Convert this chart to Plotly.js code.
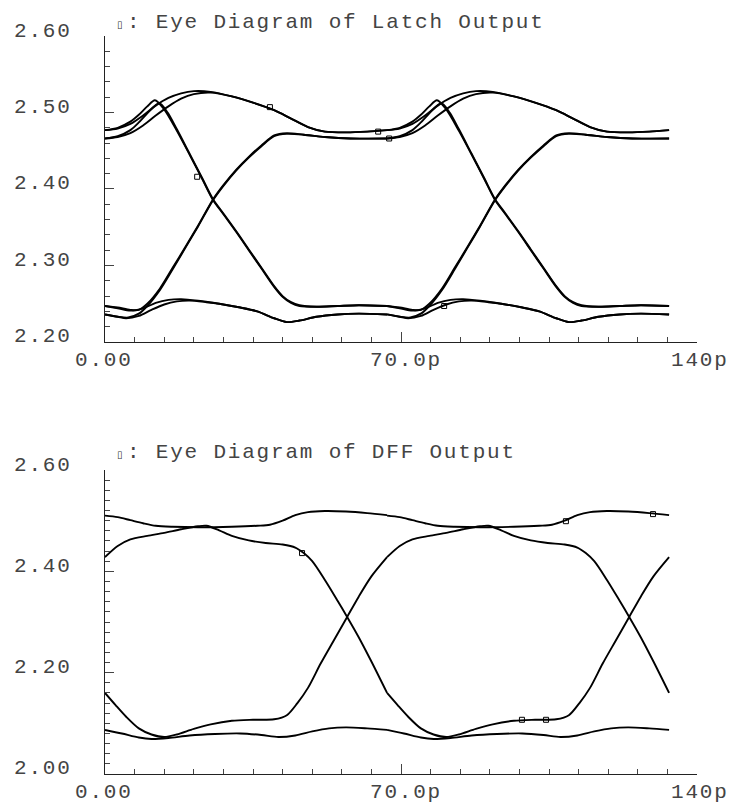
<!DOCTYPE html>
<html><head><meta charset="utf-8">
<script src="https://cdn.plot.ly/plotly-3.0.1.min.js"></script>
<style>
html,body{margin:0;padding:0;background:#fff;}
.annotation-text{letter-spacing:1.8px;}
</style>
</head><body>
<div id="chart" style="width:732px;height:810px;"></div>
<script>
// One unit interval (ps); the eye folds the waveform every UI, two UIs are shown.
const period = 66.7;

// ---------- Latch output (top): one-UI waveform shapes (t in ps, V) ----------
const latchHHa_t = [0, 3, 6, 9, 12, 15, 18, 21, 25, 30, 35, 40, 44, 48, 52, 57, 62, 66.7];
const latchHHa_v = [2.477, 2.479, 2.485, 2.496, 2.509, 2.519, 2.525, 2.528, 2.527, 2.521, 2.513, 2.503, 2.492, 2.481, 2.475, 2.474, 2.475, 2.477];
const latchHHb_t = [0, 3, 6, 9, 12, 15, 18, 21, 25, 30, 35, 40, 44, 48, 52, 57, 62, 66.7];
const latchHHb_v = [2.466, 2.468, 2.473, 2.483, 2.496, 2.508, 2.518, 2.524, 2.526, 2.521, 2.513, 2.503, 2.492, 2.481, 2.475, 2.474, 2.475, 2.477];
const latchHLa_t = [0, 3, 6, 8, 10, 11.8, 14, 17, 20, 23, 25.5, 28, 31, 34, 37, 40, 42, 44, 46, 50, 55, 60, 66.7];
const latchHLa_v = [2.477, 2.480, 2.488, 2.497, 2.508, 2.516, 2.504, 2.476, 2.445, 2.413, 2.386, 2.367, 2.344, 2.320, 2.296, 2.272, 2.259, 2.251, 2.247, 2.246, 2.247, 2.248, 2.247];
const latchHLb_t = [0, 3, 6, 8, 10, 12.8, 14.8, 17, 20, 23, 25.5, 28, 31, 34, 37, 40, 42, 44, 46, 50, 55, 60, 66.7];
const latchHLb_v = [2.466, 2.469, 2.477, 2.487, 2.499, 2.512, 2.500, 2.478, 2.446, 2.414, 2.387, 2.368, 2.345, 2.321, 2.297, 2.273, 2.260, 2.252, 2.248, 2.246, 2.247, 2.248, 2.247];
const latchLHa_t = [0, 3, 6, 8, 10, 13, 16, 19, 22, 25.5, 28, 31, 34, 37, 40, 43, 47, 52, 58, 66.7];
const latchLHa_v = [2.247, 2.245, 2.242, 2.242, 2.250, 2.270, 2.297, 2.324, 2.352, 2.386, 2.405, 2.425, 2.442, 2.457, 2.470, 2.473, 2.471, 2.468, 2.466, 2.466];
const latchLHb_t = [0, 3, 5.5, 8, 10, 13, 16, 19, 22, 25.5, 28, 31, 34, 37, 40, 43, 47, 52, 58, 66.7];
const latchLHb_v = [2.236, 2.233, 2.232, 2.237, 2.247, 2.268, 2.295, 2.323, 2.351, 2.385, 2.404, 2.424, 2.441, 2.456, 2.469, 2.472, 2.471, 2.468, 2.466, 2.466];
const latchLLa_t = [0, 3, 6, 9, 12, 15, 18, 22, 27, 32, 36, 40, 43, 46, 50, 55, 60, 66.7];
const latchLLa_v = [2.247, 2.244, 2.241, 2.244, 2.251, 2.255, 2.256, 2.254, 2.250, 2.245, 2.240, 2.231, 2.226, 2.228, 2.233, 2.236, 2.237, 2.236];
const latchLLb_t = [0, 3, 5, 8, 11, 14, 17, 20, 24, 27, 32, 36, 40, 43, 46, 50, 55, 60, 66.7];
const latchLLb_v = [2.236, 2.233, 2.231, 2.234, 2.242, 2.249, 2.253, 2.254, 2.252, 2.250, 2.245, 2.240, 2.231, 2.226, 2.228, 2.233, 2.236, 2.237, 2.236];
// curve-label markers (absolute t in ps, V)
const latchMark_t = [39.0, 21.8, 64.6, 67.2, 80.2];
const latchMark_v = [2.507, 2.416, 2.475, 2.466, 2.247];

// ---------- DFF output (bottom): one-UI waveform shapes ----------
const dffHH_t = [0, 3, 6, 9, 12, 16, 22, 30, 36, 39, 42, 45, 48, 52, 57, 62, 66.7];
const dffHH_v = [2.510, 2.507, 2.501, 2.495, 2.490, 2.488, 2.487, 2.488, 2.490, 2.492, 2.500, 2.511, 2.517, 2.519, 2.518, 2.515, 2.511];
const dffLL_t = [0, 4, 8, 11, 15, 20, 26, 32, 37, 41, 45, 49, 53, 57, 62, 66.7];
const dffLL_v = [2.087, 2.080, 2.072, 2.069, 2.071, 2.076, 2.079, 2.080, 2.077, 2.073, 2.076, 2.084, 2.090, 2.092, 2.090, 2.087];
const dffHL_t = [0, 3, 6, 10, 14, 18, 22, 24, 27, 30, 34, 38, 42, 45, 47, 49, 52, 55, 57.2, 60, 63, 66.7];
const dffHL_v = [2.428, 2.450, 2.463, 2.470, 2.476, 2.483, 2.489, 2.490, 2.481, 2.470, 2.461, 2.456, 2.453, 2.447, 2.436, 2.420, 2.383, 2.342, 2.311, 2.270, 2.222, 2.160];
const dffLH_t = [0, 2.5, 5, 8, 11, 14, 17, 21, 25, 30, 35, 40, 43, 45.5, 48, 51, 54, 57.2, 60, 63, 66.7];
const dffLH_v = [2.160, 2.136, 2.113, 2.090, 2.078, 2.073, 2.078, 2.089, 2.098, 2.105, 2.107, 2.108, 2.116, 2.140, 2.170, 2.218, 2.262, 2.309, 2.350, 2.390, 2.428];
const dffMark_t = [46.6, 109.0, 129.6, 98.6, 104.3];
const dffMark_v = [2.436, 2.499, 2.513, 2.107, 2.107];

// ---------- ticks / labels / titles ----------
const xTickVals = [0, 70, 140];
const xTickText = ['0.00', '70.0p', '140p'];
const latchYTickVals = [2.2, 2.3, 2.4, 2.5, 2.6];
const latchYTickText = ['2.20', '2.30', '2.40', '2.50', '2.60'];
const dffYTickVals = [2.0, 2.2, 2.4, 2.6];
const dffYTickText = ['2.00', '2.20', '2.40', '2.60'];
const latchTitle = ': Eye Diagram of Latch Output';
const dffTitle = ': Eye Diagram of DFF Output';

const latchShapes = [[latchHHa_t, latchHHa_v], [latchHHb_t, latchHHb_v], [latchHLa_t, latchHLa_v], [latchHLb_t, latchHLb_v],
                     [latchLHa_t, latchLHa_v], [latchLHb_t, latchLHb_v], [latchLLa_t, latchLLa_v], [latchLLb_t, latchLLb_v]];
const dffShapes = [[dffHH_t, dffHH_v], [dffLL_t, dffLL_v], [dffHL_t, dffHL_v], [dffLH_t, dffLH_v]];

const traces = [];
function addEye(shapes, xa, ya) {
  shapes.forEach(([ts, vs]) => {
    [0, 1].forEach(k => {
      traces.push({type: 'scatter', mode: 'lines', xaxis: xa, yaxis: ya,
        x: ts.map(t => t + k * period), y: vs,
        line: {color: '#000', width: 1.9, shape: 'spline', smoothing: 0.8},
        hoverinfo: 'skip', showlegend: false});
    });
  });
}
addEye(latchShapes, 'x', 'y');
addEye(dffShapes, 'x2', 'y2');
function addMarks(ts, vs, xa, ya) {
  traces.push({type: 'scatter', mode: 'markers', xaxis: xa, yaxis: ya, x: ts, y: vs,
    marker: {symbol: 'square-open', size: 5, color: '#000', line: {width: 1, color: '#000'}},
    hoverinfo: 'skip', showlegend: false});
}
addMarks(latchMark_t, latchMark_v, 'x', 'y');
addMarks(dffMark_t, dffMark_v, 'x2', 'y2');

const FONT = {family: 'Liberation Mono, DejaVu Sans Mono, monospace', size: 21, color: '#444'};
const baseAxis = {showline: true, linecolor: '#222', linewidth: 1, showgrid: false, zeroline: false,
  ticks: 'inside', ticklen: 10, tickwidth: 1, tickcolor: '#444', showticklabels: false, fixedrange: true};

function xAxis(anchor) {
  return Object.assign({}, baseAxis, {anchor: anchor, range: [0, 140], domain: [0, 1],
    tickmode: 'array', tickvals: xTickVals,
    minor: {tick0: 0, dtick: 7, ticks: 'inside', ticklen: 5, tickwidth: 1, tickcolor: '#444', showgrid: false}});
}
function yAxis(anchor, range, domain, vals) {
  return Object.assign({}, baseAxis, {anchor: anchor, range: range, domain: domain,
    tickmode: 'array', tickvals: vals, ticklen: 9,
    minor: {tick0: range[0], dtick: 0.02, ticks: 'inside', ticklen: 5, tickwidth: 1, tickcolor: '#444', showgrid: false}});
}

const annotations = [];
function yLabels(vals, texts, yref) {
  vals.forEach((v, i) => annotations.push({xref: 'paper', x: 0, xanchor: 'left', xshift: -93,
    yref: yref, y: v, yanchor: 'middle', yshift: 5, text: texts[i], showarrow: false, font: FONT}));
}
function xLabels(xref, yref, y0) {
  const shifts = [-1, 5, 3];
  xTickVals.forEach((v, i) => annotations.push({xref: xref, x: v, xanchor: 'center', xshift: shifts[i],
    yref: yref, y: y0, yanchor: 'middle', yshift: -19, text: xTickText[i], showarrow: false, font: FONT}));
}
function title(text, yref, yshift) {
  annotations.push({xref: 'paper', x: 0, xanchor: 'left', xshift: 20, yref: yref, y: 1, yanchor: 'middle',
    yshift: yshift, text: text, showarrow: false, font: FONT});
  annotations.push({xref: 'paper', x: 0, xanchor: 'left', xshift: 10, yref: yref, y: 1, yanchor: 'middle',
    yshift: yshift - 2, text: '▯', showarrow: false, font: {family: 'DejaVu Sans', size: 10, color: '#333'}});
}
yLabels(latchYTickVals, latchYTickText, 'y');
yLabels(dffYTickVals, dffYTickText, 'y2');
xLabels('x', 'y', 2.2);
xLabels('x2', 'y2', 2.0);
title(latchTitle, 'y domain', 14);
title(dffTitle, 'y2 domain', 18);

const layout = {
  width: 732, height: 810,
  margin: {l: 105, r: 35, t: 36, b: 36, pad: 0},
  paper_bgcolor: '#fff', plot_bgcolor: '#fff', showlegend: false,
  font: FONT,
  xaxis: xAxis('y'),
  yaxis: yAxis('x', [2.2, 2.6], [0.5854, 1], latchYTickVals),
  xaxis2: xAxis('y2'),
  yaxis2: yAxis('x2', [2.0, 2.6], [0, 0.4119], dffYTickVals),
  annotations: annotations
};
Plotly.newPlot('chart', traces, layout, {displayModeBar: false, staticPlot: true});
</script>
</body></html>
